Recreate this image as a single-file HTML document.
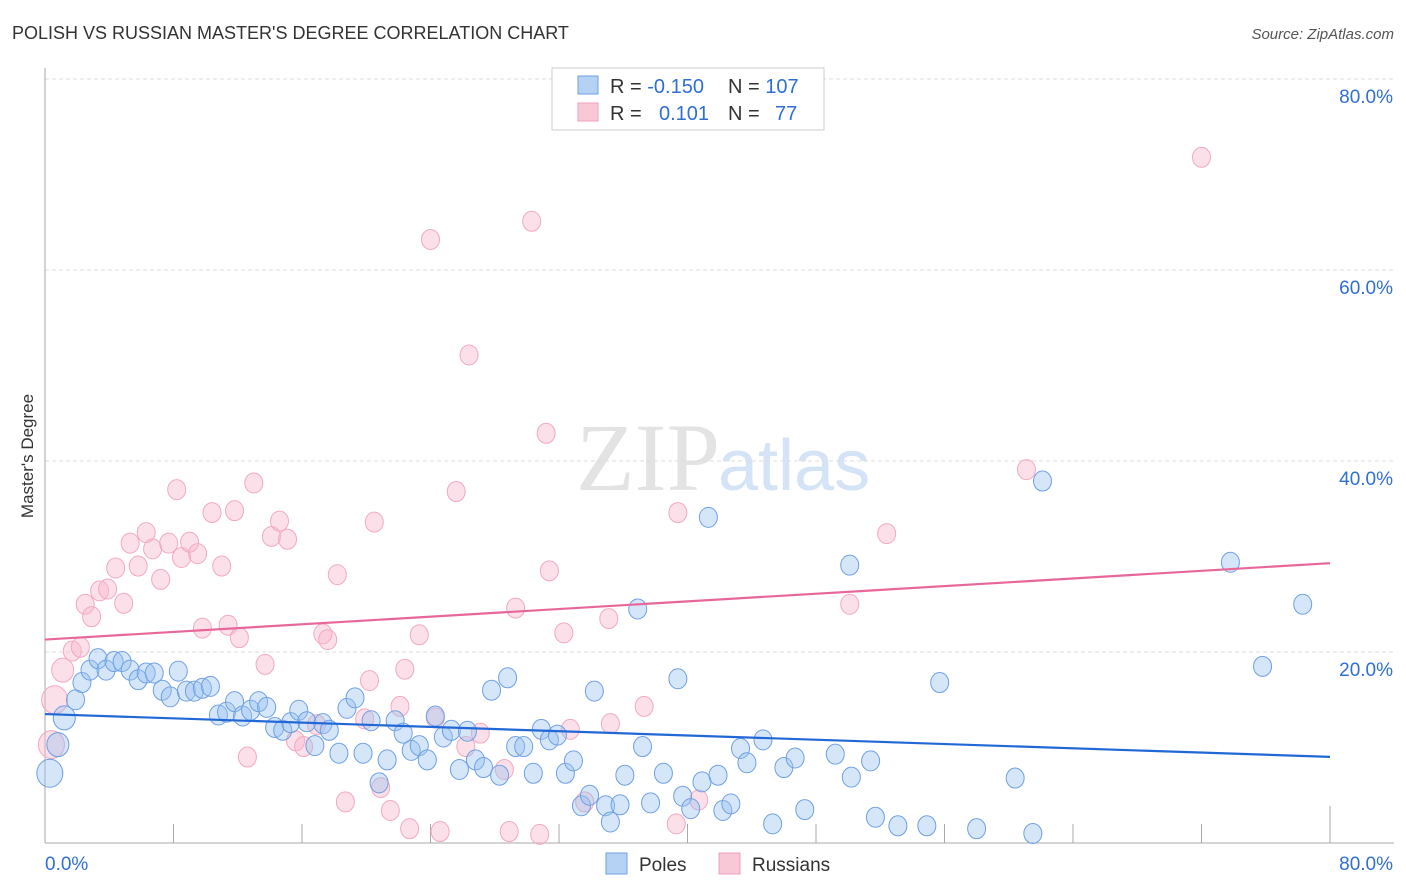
<!DOCTYPE html>
<html><head><meta charset="utf-8"><style>
body{margin:0;background:#fff;font-family:"Liberation Sans",sans-serif;}
svg{display:block}
</style></head><body>
<svg id="chart" width="1406" height="892">
<text x="12" y="39" font-size="18" fill="#333">POLISH VS RUSSIAN MASTER'S DEGREE CORRELATION CHART</text>
<text x="1394" y="39" font-size="15" fill="#555" font-style="italic" text-anchor="end">Source: ZipAtlas.com</text>
<text x="720" y="490" font-size="96" fill="#e3e3e3" text-anchor="end" font-family="Liberation Serif,serif">ZIP</text>
<text x="718" y="490" font-size="72" fill="#d4e3f5">atlas</text>
<text transform="translate(33,456) rotate(-90)" font-size="17" fill="#333" text-anchor="middle">Master's Degree</text>
<g id="grid"></g><g id="axes"></g><g id="pts"></g><g id="trends"></g>
<g>
<rect x="552" y="68" width="272" height="62" fill="#fff" stroke="#ccc"/>
<rect x="578" y="76" width="20" height="18" fill="#b5d2f5" stroke="#6ea0e0"/>
<rect x="578" y="103" width="20" height="18" fill="#f9c8d6" stroke="#eea0b8"/>
<text x="610" y="93" font-size="20" fill="#333">R = <tspan fill="#2f6fd6">-0.150</tspan><tspan x="728">N = </tspan><tspan fill="#2f6fd6">107</tspan></text>
<text x="610" y="120" font-size="20" fill="#333">R = <tspan x="659" fill="#2f6fd6">0.101</tspan><tspan x="728">N = </tspan><tspan x="775" fill="#2f6fd6">77</tspan></text>
</g>
<g>
<rect x="606" y="853" width="21" height="21" fill="#b5d2f5" stroke="#6ea0e0"/>
<text x="639" y="871" font-size="19" fill="#333">Poles</text>
<rect x="719" y="853" width="21" height="21" fill="#f9c8d6" stroke="#eea0b8"/>
<text x="752" y="871" font-size="19" fill="#333">Russians</text>
</g>
</svg>
<script>
const polesX=[0.3,0.8,1.2,1.9,2.3,2.8,3.3,3.8,4.3,4.8,5.3,5.8,6.3,6.8,7.3,7.8,8.3,8.8,9.3,9.8,10.3,10.8,11.3,11.8,12.3,12.8,13.3,13.8,14.3,14.8,15.3,15.8,16.3,16.8,17.3,17.7,18.3,18.8,19.3,19.8,20.3,20.8,21.3,21.8,22.3,22.8,23.3,23.8,24.3,24.8,25.3,25.8,26.3,26.8,27.3,27.8,28.3,28.8,29.3,29.8,30.4,30.9,31.4,31.9,32.4,32.9,33.4,33.9,34.2,34.9,35.2,35.8,36.1,36.9,37.2,37.7,38.5,39.4,39.7,40.2,40.9,41.3,41.9,42.2,42.7,43.3,43.7,44.7,45.3,46.0,46.7,47.3,49.2,50.1,50.2,51.4,51.7,53.1,54.9,55.7,58.0,60.4,61.5,62.1,73.8,75.8,78.3];
const polesY=[7.3,10.3,13.1,15.0,16.8,18.1,19.3,18.1,19.0,19.0,18.1,17.1,17.8,17.8,16.0,15.3,18.0,15.9,15.9,16.2,16.4,13.4,13.7,14.8,13.3,13.9,14.8,14.2,12.1,11.8,12.6,13.9,12.7,10.2,12.5,11.8,9.4,14.1,15.2,9.4,12.8,6.3,8.7,12.8,11.5,9.7,10.2,8.7,13.3,11.1,11.8,7.7,11.7,8.7,7.9,16.0,7.1,17.3,10.1,10.1,7.3,11.9,10.8,11.3,7.3,8.6,3.9,5.0,15.9,3.9,2.2,4.0,7.1,24.5,10.1,4.2,7.3,17.2,4.9,3.6,6.4,34.1,7.1,3.4,4.1,9.9,8.4,10.8,2.0,7.9,8.9,3.5,9.3,29.1,6.9,8.6,2.7,1.8,1.8,16.8,1.5,6.8,1.0,37.9,29.4,18.5,25.0];
const russX=[0.4,0.6,1.1,1.7,2.2,2.5,2.9,3.4,3.9,4.4,4.9,5.3,5.8,6.3,6.7,7.2,7.7,8.2,8.5,9.0,9.5,9.8,10.4,11.0,11.4,11.8,12.1,12.6,13.0,13.7,14.1,14.6,15.1,15.6,16.1,16.9,17.3,17.6,18.2,18.7,19.9,20.2,20.5,20.9,21.5,22.1,22.4,22.7,23.3,24.0,24.3,24.6,25.6,26.2,26.4,27.1,28.6,28.9,29.3,30.3,30.8,31.2,31.4,32.3,32.7,33.6,35.1,35.2,37.3,39.3,39.4,40.7,50.1,52.4,61.1,72.0];
const russY=[10.3,15.0,18.1,20.1,20.5,25.0,23.7,26.4,26.6,28.8,25.1,31.4,29.0,32.5,30.8,27.6,31.4,37.0,29.9,31.5,30.3,22.5,34.6,29.0,22.8,34.8,21.5,9.0,37.7,18.7,32.1,33.7,31.8,10.7,10.1,12.4,21.9,21.3,28.1,4.3,13.0,17.0,33.6,5.8,3.4,14.3,18.2,1.5,21.8,63.2,13.1,1.2,36.8,10.1,51.1,11.5,7.7,1.2,24.6,65.1,0.9,42.9,28.5,22.0,11.9,4.3,23.5,12.5,14.3,2.0,34.6,4.5,25.0,32.4,39.1,71.8];
const trendIntercept=[13.5,21.3];
const trendSlope=[-0.056,0.1];
const yTicks=[20,40,60,80];
const yTickLabels=["20.0%","40.0%","60.0%","80.0%"];
const xTicks=[0,8,16,24,32,40,48,56,64,72,80];

const NS="http://www.w3.org/2000/svg";
const X0=45,X1=1330,Y0=843,Y1=79;
const sx=v=>X0+v/80*(X1-X0);
const sy=v=>Y0-v/80*(Y0-Y1);
function mk(tag,attrs,parent){const e=document.createElementNS(NS,tag);for(const k in attrs)e.setAttribute(k,attrs[k]);parent.appendChild(e);return e;}
const grid=document.getElementById('grid'),axes=document.getElementById('axes'),pts=document.getElementById('pts'),tr=document.getElementById('trends');
yTicks.forEach((t,i)=>{
  const l=mk('line',{x1:X0,x2:1394,y1:sy(t),y2:sy(t),stroke:'#ddd','stroke-dasharray':'4,3'},grid);
  
  
  const tx=mk('text',{x:1393,y:sy(t)+24,'font-size':19,fill:'#2f6fd6','text-anchor':'end'},grid);
  tx.textContent=yTickLabels[i];
  
  
});
const ya=mk('line',{x1:X0,x2:X0,y1:68,y2:Y0,stroke:'#aaa'},axes);


const xa=mk('line',{x1:X0,x2:1394,y1:Y0,y2:Y0,stroke:'#aaa'},axes);


xTicks.forEach(t=>{
  const l=mk('line',{x1:sx(t),x2:sx(t),y1:Y0,y2:t===80?Y0-37:Y0-19,stroke:'#aaa'},axes);
  
  
});
const xl0=mk('text',{x:45,y:870,'font-size':19,fill:'#2f6fd6'},axes);xl0.textContent='0.0%';


const xl1=mk('text',{x:1393,y:870,'font-size':19,fill:'#2f6fd6','text-anchor':'end'},axes);xl1.textContent='80.0%';


function drawPts(xs,ys,fill,stroke,name){
  xs.forEach((x,i)=>{
    const r=x<1.5?(x<0.7?13:11):9;
    const c=mk('ellipse',{cx:sx(x),cy:sy(ys[i]),rx:r,ry:r+1,fill:fill,stroke:stroke,'stroke-width':1},pts);
    
    
  });
}
drawPts(russX,russY,'rgba(248,182,202,0.42)','#f2a9c0','russians-point');
drawPts(polesX,polesY,'rgba(150,192,240,0.4)','#6fa0e2','poles-point');
['#2168d6','#e8679a'].forEach((col,i)=>{
  const l=mk('line',{x1:sx(0),x2:sx(80),y1:sy(trendIntercept[i]),y2:sy(trendIntercept[i]+trendSlope[i]*80),stroke:col,'stroke-width':2.2},tr);
  
  
});
</script>
</body></html>
